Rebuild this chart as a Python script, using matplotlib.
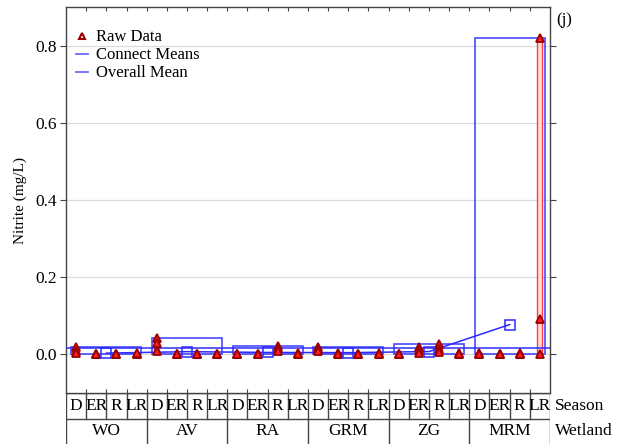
import numpy as np
import matplotlib
matplotlib.use("Agg")
import matplotlib.pyplot as plt
from matplotlib.patches import Rectangle
from matplotlib.lines import Line2D

plt.rcParams['font.family'] = ['Liberation Serif', 'DejaVu Serif']

# ---- data: nitrite (mg/L), three samples per wetland x season cell ----
wetlands = ["WO", "AV", "RA", "GRM", "ZG", "MRM"]
seasons = ["D", "ER", "R", "LR"]

wo = [[0.018, 0.010, 0.004], [0.000, 0.001, 0.000], [0.000, 0.001, 0.000], [0.002, 0.001, 0.003]]
av = [[0.042, 0.030, 0.008], [0.002, 0.001, 0.000], [0.000, 0.001, 0.000], [0.000, 0.001, 0.000]]
ra = [[0.002, 0.001, 0.000], [0.002, 0.001, 0.000], [0.022, 0.016, 0.010], [0.004, 0.002, 0.001]]
grm = [[0.020, 0.013, 0.008], [0.003, 0.002, 0.001], [0.001, 0.000, 0.000], [0.003, 0.002, 0.001]]
zg = [[0.001, 0.000, 0.000], [0.018, 0.012, 0.004], [0.026, 0.014, 0.006], [0.004, 0.002, 0.001]]
mrm = [[0.003, 0.001, 0.000], [0.001, 0.000, 0.000], [0.004, 0.002, 0.001], [0.820, 0.093, 0.002]]

groups = [wo, av, ra, grm, zg, mrm]

W, H = 629, 444
fig = plt.figure(figsize=(W / 100, H / 100), dpi=100)

L, R, T, B = 66, 550, 7, 393
ax = fig.add_axes([L / W, 1 - B / H, (R - L) / W, (B - T) / H])
ncol = len(wetlands) * len(seasons)
ax.set_xlim(0, ncol)
ax.set_ylim(-0.1, 0.9)

blue = "#2a2aff"
red = "#ff2020"
dred = "#9a0000"

for yv in [0.0, 0.2, 0.4, 0.6, 0.8]:
    ax.axhline(yv, color="#dddddd", lw=0.9, zorder=0)

group_means = []
all_vals = []
for g, cells in enumerate(groups):
    gvals = [v for c in cells for v in c]
    all_vals += gvals
    gx0 = 4 * g
    # group range box
    ax.add_patch(Rectangle((gx0 + 0.27, min(gvals)), 3.46, max(gvals) - min(gvals),
                           fill=False, ec=blue, lw=1.2, alpha=0.85, zorder=3))
    for s, vals in enumerate(cells):
        cx = gx0 + s + 0.5
        lo, hi = min(vals), max(vals)
        # cell range bar
        ax.add_patch(Rectangle((cx - 0.12, lo), 0.24, hi - lo,
                               fc="#ffd6d6", ec=red, lw=1.0, alpha=0.85, zorder=2))
        ax.plot([cx] * len(vals), vals, ls="none", marker="^", ms=5.2,
                mfc=red, mec=dred, mew=1.3, zorder=5)
    group_means.append(np.mean(gvals))

gx = [4 * g + 2 for g in range(len(groups))]
overall = np.mean(all_vals)
ax.axhline(overall, color=blue, lw=1.2, alpha=0.9, zorder=4)
ax.plot(gx, group_means, color=blue, lw=1.1, zorder=4)
ax.plot(gx, group_means, ls="none", marker="s", ms=6.5, mfc="none",
        mec=blue, mew=1.1, zorder=6)

# axes styling
for sp in ax.spines.values():
    sp.set_color("#444444")
    sp.set_linewidth(1.0)
ax.set_yticks([0.0, 0.2, 0.4, 0.6, 0.8])
ax.set_yticklabels(["0.0", "0.2", "0.4", "0.6", "0.8"], fontsize=12.5)
ax.tick_params(axis="y", direction="out", length=4, pad=2.5, color="#444444", right=True)
ax.set_xticks(np.arange(1, ncol))
ax.set_xticklabels([])
ax.tick_params(axis="x", direction="in", length=3, top=True, bottom=True, color="#444444")
ax.set_ylabel("Nitrite (mg/L)", fontsize=11, labelpad=6)

handles = [
    Line2D([], [], ls="none", marker="^", ms=5, mfc="white", mec=dred, mew=1.5),
    Line2D([], [], color="#6a6aff", lw=1.3),
    Line2D([], [], color="#6a6aff", lw=1.3),
]
ax.legend(handles, ["Raw Data", "Connect Means", "Overall Mean"], loc="upper left",
          frameon=False, fontsize=12, handlelength=0.75, handletextpad=0.45,
          labelspacing=0.12, borderaxespad=0.3, bbox_to_anchor=(-0.004, 0.972))

fig.text(556 / W, 1 - 20 / H, "(j)", fontsize=12, va="center", ha="left")

# category table under the plot
tb = fig.add_axes([L / W, 0, (R - L) / W, (H - B) / H])
tb.set_xlim(0, ncol)
tb.set_ylim(0, 2)
tb.axis("off")
lc = "#444444"
tb.plot([0, ncol], [1, 1], color=lc, lw=1.0)
tb.plot([0, ncol], [2, 2], color=lc, lw=1.0)
tb.plot([0, 0], [0, 2], color=lc, lw=1.0)
tb.plot([ncol, ncol], [0, 2], color=lc, lw=1.0)
for i in range(1, ncol):
    y0 = 0 if i % 4 == 0 else 1
    tb.plot([i, i], [y0, 2], color=lc, lw=1.0)
for i in range(ncol):
    tb.text(i + 0.5, 1.5, seasons[i % 4], ha="center", va="center", fontsize=12.5)
for g, name in enumerate(wetlands):
    tb.text(4 * g + 2, 0.5, name, ha="center", va="center", fontsize=12.5)
tb.text(ncol + 0.25, 1.5, "Season", ha="left", va="center", fontsize=12.5)
tb.text(ncol + 0.25, 0.5, "Wetland", ha="left", va="center", fontsize=12.5)

fig.savefig("out.png", dpi=100)
